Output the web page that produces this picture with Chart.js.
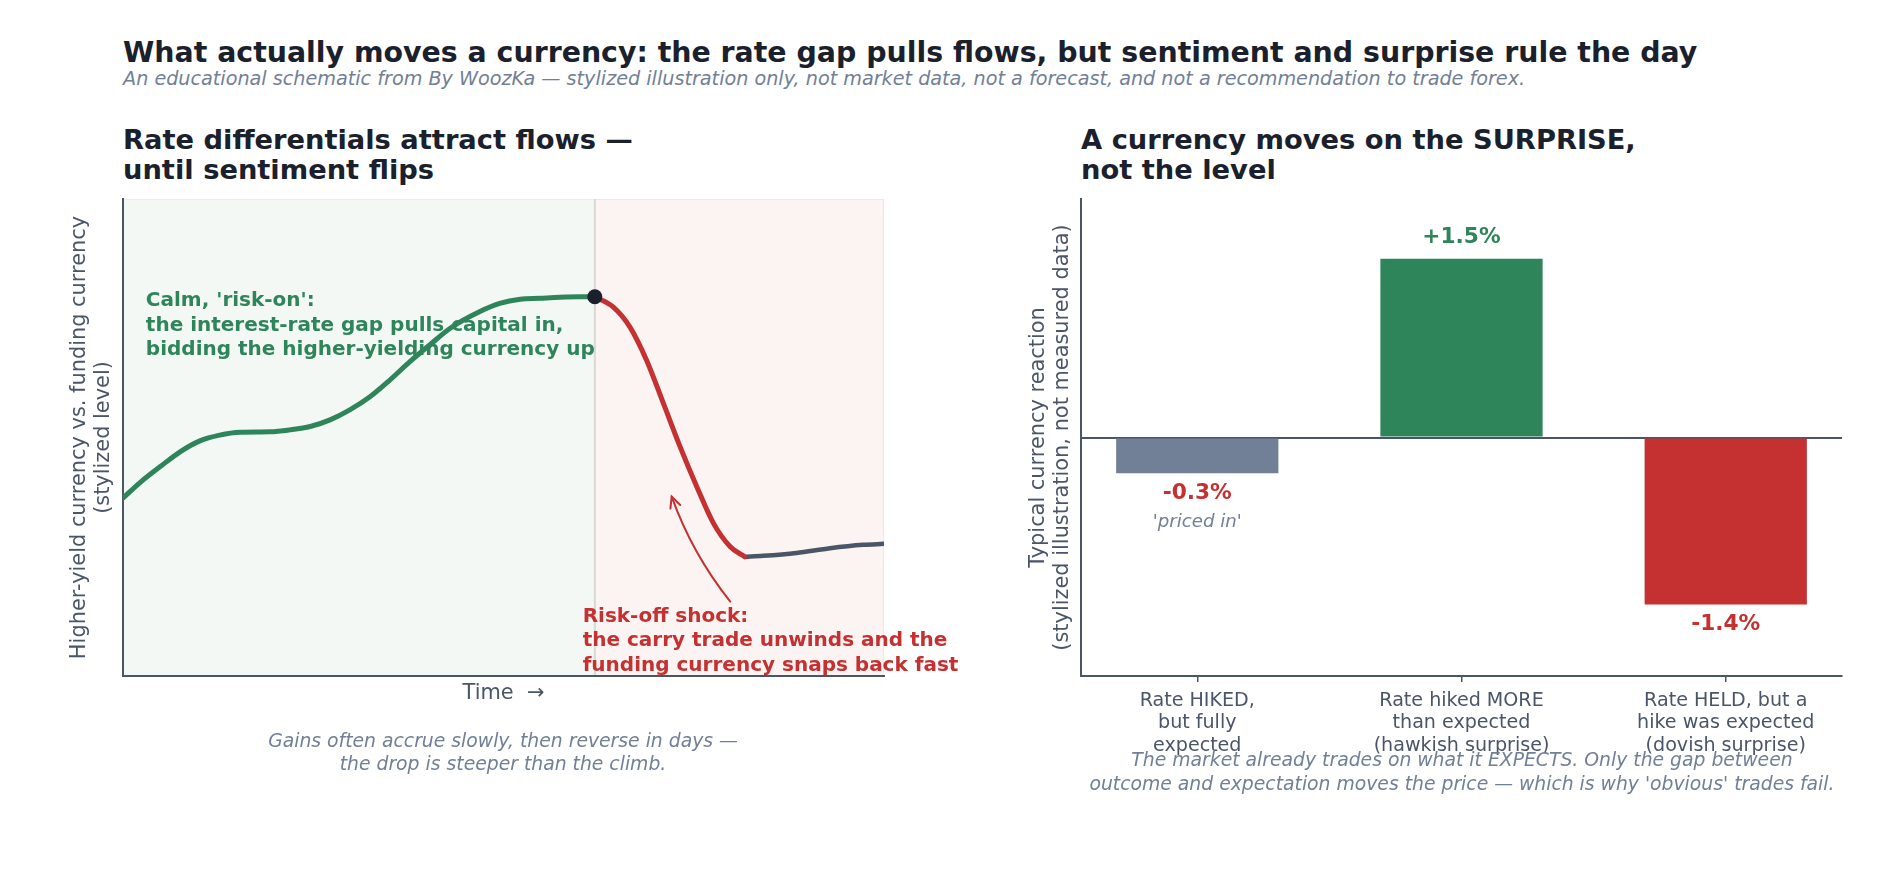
<!DOCTYPE html>
<html><head><meta charset="utf-8">
<script src="https://cdn.jsdelivr.net/npm/chart.js@4.4.1/dist/chart.umd.min.js"></script>
<style>
html,body{margin:0;padding:0;background:#fff;}
#page{position:relative;width:1890px;height:885px;overflow:hidden;font-family:"DejaVu Sans",sans-serif;background:#fff;}
.t{position:absolute;white-space:nowrap;}
canvas{position:absolute;top:0;}
</style></head><body><div id="page">
<div class="t" style="left:123px;top:36px;font-size:28.4px;line-height:34px;font-weight:bold;color:#1a202c">What actually moves a currency: the rate gap pulls flows, but sentiment and surprise rule the day</div>
<div class="t" style="left:123px;top:66.9px;font-size:19.2px;line-height:23px;font-style:italic;color:#718096">An educational schematic from By WoozKa — stylized illustration only, not market data, not a forecast, and not a recommendation to trade forex.</div>
<div class="t" style="left:123px;top:125px;font-size:27.3px;line-height:30px;font-weight:bold;color:#1a202c">Rate differentials attract flows —<br>until sentiment flips</div>
<div class="t" style="left:1081px;top:125px;font-size:27.3px;line-height:30px;font-weight:bold;color:#1a202c">A currency moves on the SURPRISE,<br>not the level</div>
<canvas id="c1" width="1000" height="885" style="left:0px"></canvas>
<canvas id="c2" width="945" height="885" style="left:945px"></canvas>
<div class="t" style="left:203px;width:600px;text-align:center;top:728.5px;font-size:18.8px;line-height:23.5px;font-style:italic;color:#718096">Gains often accrue slowly, then reverse in days —<br>the drop is steeper than the climb.</div>
<div class="t" style="left:1062px;width:800px;text-align:center;top:748px;font-size:18.8px;line-height:23.5px;font-style:italic;color:#718096">The market already trades on what it EXPECTS. Only the gap between<br>outcome and expectation moves the price — which is why 'obvious' trades fail.</div>
</div>
<script>
// ---------- data: left panel (stylized level over time) ----------
const rallyT     = [0, 0.22, 0.49, 0.75, 1.01, 1.27, 1.54, 1.93, 2.19, 2.46, 2.72, 2.98, 3.25, 3.51, 3.77, 4.03, 4.30, 4.69, 4.95, 5.22, 5.48, 5.74, 6.01, 6.20];
const rallyLevel = [3.73, 4.05, 4.39, 4.70, 4.93, 5.05, 5.11, 5.12, 5.16, 5.23, 5.37, 5.58, 5.86, 6.21, 6.59, 6.94, 7.29, 7.64, 7.81, 7.90, 7.92, 7.94, 7.95, 7.95];
const shockT     = [6.20, 6.44, 6.66, 6.88, 7.10, 7.32, 7.54, 7.76, 7.98, 8.17];
const shockLevel = [7.95, 7.74, 7.32, 6.62, 5.72, 4.81, 3.97, 3.20, 2.71, 2.50];
const settleT     = [8.17, 8.41, 8.85, 9.29, 9.73, 10.0];
const settleLevel = [2.50, 2.52, 2.58, 2.68, 2.75, 2.77];
const peakPoint = [6.20, 7.95];
const calmText  = ["Calm, 'risk-on':", "the interest-rate gap pulls capital in,", "bidding the higher-yielding currency up"];
const calmAt    = [0.30, 7.86];
const shockText = ["Risk-off shock:", "the carry trade unwinds and the", "funding currency snaps back fast"];
const shockTextAt = [6.04, 1.24];
const arrowTail = [7.98, 1.56];
const arrowHead = [7.21, 3.76];

// ---------- data: right panel (reaction to policy decision) ----------
const surpriseCategories = [
  ["Rate HIKED,", "but fully", "expected"],
  ["Rate hiked MORE", "than expected", "(hawkish surprise)"],
  ["Rate HELD, but a", "hike was expected", "(dovish surprise)"]
];
const surpriseReaction = [-0.3, 1.5, -1.4];
const reactionLabels   = ["-0.3%", "+1.5%", "-1.4%"];
const reactionNotes    = ["'priced in'", "", ""];

const GREEN = '#2f855a', RED = '#c53030', SLATE = '#718096', DARK = '#4a5568', INK = '#1a202c';
const FF = '"DejaVu Sans", sans-serif';
Chart.defaults.font.family = FF;

const pts = (xs, ys) => xs.map((x, i) => ({x, y: ys[i]}));

const shadePlugin = {
  id: 'shade',
  beforeDraw(chart) {
    const {ctx, chartArea: a, scales: {x}} = chart;
    const xs = x.getPixelForValue(peakPoint[0]);
    ctx.save();
    ctx.fillStyle = 'rgba(47,133,90,0.06)';
    ctx.fillRect(a.left, a.top, xs - a.left, a.bottom - a.top);
    ctx.fillStyle = 'rgba(197,48,48,0.06)';
    ctx.fillRect(xs, a.top, a.right - xs, a.bottom - a.top);
    ctx.strokeStyle = 'rgba(197,48,48,0.08)';
    ctx.lineWidth = 1;
    ctx.strokeRect(xs + 0.5, a.top + 0.5, a.right - xs - 1, a.bottom - a.top - 1);
    ctx.strokeStyle = 'rgba(47,133,90,0.06)';
    ctx.strokeRect(a.left + 0.5, a.top + 0.5, xs - a.left - 1, a.bottom - a.top - 1);
    ctx.strokeStyle = 'rgba(120,100,100,0.15)';
    ctx.lineWidth = 2;
    ctx.beginPath(); ctx.moveTo(xs, a.top); ctx.lineTo(xs, a.bottom); ctx.stroke();
    ctx.restore();
  }
};

const annotatePlugin = {
  id: 'annot',
  afterDatasetsDraw(chart) {
    const {ctx, scales: {x, y}} = chart;
    ctx.save();
    ctx.font = 'bold 20px ' + FF;
    ctx.textBaseline = 'middle';
    ctx.textAlign = 'left';
    ctx.fillStyle = GREEN;
    calmText.forEach((s, i) => ctx.fillText(s, x.getPixelForValue(calmAt[0]), y.getPixelForValue(calmAt[1]) + i * 24.5));
    ctx.fillStyle = RED;
    shockText.forEach((s, i) => ctx.fillText(s, x.getPixelForValue(shockTextAt[0]), y.getPixelForValue(shockTextAt[1]) + i * 24.4));
    // curved arrow
    const tx = x.getPixelForValue(arrowTail[0]), ty = y.getPixelForValue(arrowTail[1]);
    const hx = x.getPixelForValue(arrowHead[0]), hy = y.getPixelForValue(arrowHead[1]);
    const mx = (tx + hx) / 2, my = (ty + hy) / 2;
    const dx = hx - tx, dy = hy - ty, len = Math.hypot(dx, dy);
    const cx = mx + (dy / len) * 10, cy = my - (dx / len) * 10;
    ctx.strokeStyle = RED; ctx.lineWidth = 2; ctx.lineCap = 'round';
    ctx.beginPath(); ctx.moveTo(tx, ty); ctx.quadraticCurveTo(cx, cy, hx, hy); ctx.stroke();
    const ang = Math.atan2(hy - cy, hx - cx);
    ctx.beginPath();
    ctx.moveTo(hx - 12 * Math.cos(ang - 0.45), hy - 12 * Math.sin(ang - 0.45));
    ctx.lineTo(hx, hy);
    ctx.lineTo(hx - 12 * Math.cos(ang + 0.45), hy - 12 * Math.sin(ang + 0.45));
    ctx.stroke();
    ctx.restore();
  }
};

new Chart(document.getElementById('c1'), {
  type: 'line',
  data: {
    datasets: [
      {data: [{x: peakPoint[0], y: peakPoint[1]}], showLine: false, pointRadius: 7.5, pointBackgroundColor: INK, pointBorderWidth: 0, order: 0},
      {data: pts(rallyT, rallyLevel), borderColor: GREEN, borderWidth: 5, pointRadius: 0, cubicInterpolationMode: 'monotone', borderCapStyle: 'round', order: 1},
      {data: pts(shockT, shockLevel), borderColor: RED, borderWidth: 5, pointRadius: 0, cubicInterpolationMode: 'monotone', borderCapStyle: 'round', order: 2},
      {data: pts(settleT, settleLevel), borderColor: DARK, borderWidth: 4.5, pointRadius: 0, cubicInterpolationMode: 'monotone', borderCapStyle: 'round', order: 3}
    ]
  },
  options: {
    responsive: false, animation: false, devicePixelRatio: 1,
    layout: {padding: {left: 68, top: 199, right: 116, bottom: 179}},
    plugins: {legend: {display: false}, tooltip: {enabled: false}},
    scales: {
      x: {type: 'linear', min: 0, max: 10,
          grid: {display: true, drawOnChartArea: false, drawTicks: false},
          ticks: {display: false},
          border: {color: DARK, width: 2},
          title: {display: true, text: 'Time  →', color: DARK, font: {size: 20.9, lineHeight: 1.15}, padding: 0},
          afterFit(s) { s.height = 30; }},
      y: {type: 'linear', min: 0, max: 10,
          grid: {display: true, drawOnChartArea: false, drawTicks: false},
          ticks: {display: false},
          border: {color: DARK, width: 2},
          title: {display: true, text: ['Higher-yield currency vs. funding currency', '(stylized level)'], color: DARK, font: {size: 20.9, lineHeight: 1.15}, padding: 0},
          afterFit(s) { s.width = 55; }}
    }
  },
  plugins: [shadePlugin, annotatePlugin]
});

const barLabelPlugin = {
  id: 'barLabels',
  afterDatasetsDraw(chart) {
    const {ctx} = chart;
    const meta = chart.getDatasetMeta(0);
    ctx.save();
    ctx.textAlign = 'center'; ctx.textBaseline = 'middle';
    meta.data.forEach((bar, i) => {
      const v = surpriseReaction[i];
      ctx.font = 'bold 21.7px ' + FF;
      ctx.fillStyle = v >= 0 ? GREEN : RED;
      const yy = v >= 0 ? bar.y - 21 : bar.y + 20;
      ctx.fillText(reactionLabels[i], bar.x, yy);
      if (reactionNotes[i]) {
        ctx.font = 'italic 18.2px ' + FF;
        ctx.fillStyle = SLATE;
        ctx.fillText(reactionNotes[i], bar.x, yy + 29);
      }
    });
    ctx.restore();
  }
};

new Chart(document.getElementById('c2'), {
  type: 'bar',
  data: {
    datasets: [{
      data: surpriseReaction.map((v, i) => ({x: i, y: v})),
      backgroundColor: [SLATE, GREEN, RED],
      borderWidth: 0,
      barPercentage: 0.614, categoryPercentage: 1
    }]
  },
  options: {
    responsive: false, animation: false, devicePixelRatio: 1,
    layout: {padding: {left: 81.5, top: 199, right: 48, bottom: 129}},
    plugins: {legend: {display: false}, tooltip: {enabled: false}},
    scales: {
      x: {type: 'linear', min: -0.44, max: 2.44, offset: false,
          afterBuildTicks(s) { s.ticks = surpriseCategories.map((c, i) => ({value: i})); },
          ticks: {autoSkip: false, maxRotation: 0, padding: 7.4, color: DARK, font: {size: 19.1, lineHeight: 1.18},
                  callback: (v) => surpriseCategories[v]},
          grid: {display: true, offset: false, drawOnChartArea: false, drawTicks: true, tickLength: 6, color: DARK, lineWidth: 1.5},
          border: {color: DARK, width: 2},
          afterFit(s) { s.height = 80; }},
      y: {type: 'linear', min: -2, max: 2,
          ticks: {display: false, stepSize: 1},
          grid: {display: true, drawTicks: false,
                 color: (c) => (c.tick && c.tick.value === 0) ? DARK : 'rgba(0,0,0,0)',
                 lineWidth: (c) => (c.tick && c.tick.value === 0) ? 2 : 0},
          border: {color: DARK, width: 2},
          title: {display: true, text: ['Typical currency reaction', '(stylized illustration, not measured data)'], color: DARK, font: {size: 20.9, lineHeight: 1.15}, padding: 0},
          afterFit(s) { s.width = 54.5; }}
    }
  },
  plugins: [barLabelPlugin]
});
</script>
</body></html>
